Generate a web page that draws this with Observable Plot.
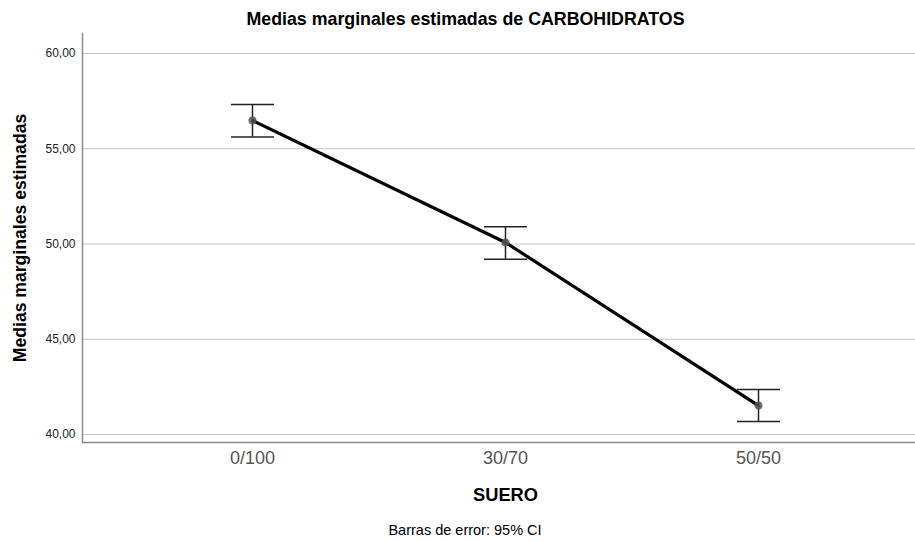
<!DOCTYPE html>
<html><head><meta charset="utf-8">
<script src="https://cdn.jsdelivr.net/npm/d3@7"></script>
<script src="https://cdn.jsdelivr.net/npm/@observablehq/plot@0.6"></script>
<style>body{margin:0;background:#fff;font-family:"Liberation Sans",Arial,sans-serif}</style>
</head><body><div id="chart"></div>
<script>
const categories = ["0/100", "30/70", "50/50"];
const means = [56.48, 50.08, 41.52];
const lower = [55.62, 49.20, 40.68];
const upper = [57.32, 50.90, 42.36];
const yTicks = [40, 45, 50, 55, 60];
const title = "Medias marginales estimadas de CARBOHIDRATOS";
const yLabel = "Medias marginales estimadas";
const xLabel = "SUERO";
const caption = "Barras de error: 95% CI";

const data = categories.map((c, i) => ({c, m: means[i], lo: lower[i], hi: upper[i]}));
const yMin = 39.58, yMax = 61.05;
const fmt = d => d.toFixed(2).replace(".", ",");
const capSymbol = {draw(ctx) { ctx.moveTo(-21.5, 0); ctx.lineTo(21.5, 0); }};

const chart = Plot.plot({
  width: 915, height: 541,
  marginTop: 33, marginBottom: 99, marginLeft: 82, marginRight: 0,
  style: {fontFamily: '"Liberation Sans", Arial, sans-serif', background: "#fff"},
  x: {type: "point", domain: categories, range: [251, 758], padding: 0, label: null},
  y: {domain: [yMin, yMax], label: null},
  marks: [
    Plot.gridY(yTicks, {stroke: "#c4c4c4", strokeOpacity: 1, strokeWidth: 1}),
    Plot.ruleY([yMin], {stroke: "#8a8a8a", strokeWidth: 1.5}),
    Plot.frame({anchor: "left", stroke: "#8a8a8a", strokeWidth: 1.5}),
    Plot.axisY(yTicks, {tickSize: 0, tickPadding: 7, tickFormat: fmt, fontSize: 12, fill: "#222"}),
    Plot.axisX({tickSize: 0, tickPadding: 9, fontSize: 18, fill: "#555", label: null}),
    Plot.ruleX(data, {x: "c", y1: "lo", y2: "hi", stroke: "#222", strokeWidth: 1.5}),
    Plot.dot(data, {x: "c", y: "lo", symbol: capSymbol, fill: "none", stroke: "#222", strokeWidth: 1.5}),
    Plot.dot(data, {x: "c", y: "hi", symbol: capSymbol, fill: "none", stroke: "#222", strokeWidth: 1.5}),
    Plot.line(data, {x: "c", y: "m", stroke: "#000", strokeWidth: 3.2}),
    Plot.dot(data, {x: "c", y: "m", r: 4, fill: "#555", fillOpacity: 0.85, stroke: "none"}),
    Plot.text([title], {frameAnchor: "top", lineAnchor: "middle", textAnchor: "middle", dy: -14.5, dx: -33.5, fontSize: 17.8, fontWeight: "bold", fill: "#000"}),
    Plot.text([yLabel], {frameAnchor: "left", lineAnchor: "middle", textAnchor: "middle", dx: -62, rotate: -90, fontSize: 17.6, fontWeight: "bold", fill: "#000"}),
    Plot.text([xLabel], {x: () => categories[1], frameAnchor: "bottom", lineAnchor: "middle", dy: 52.5, fontSize: 18.3, fontWeight: "bold", fill: "#000"}),
    Plot.text([caption], {frameAnchor: "bottom", lineAnchor: "middle", textAnchor: "middle", dy: 88, dx: -34, fontSize: 14.5, fill: "#000"})
  ]
});
document.getElementById("chart").appendChild(chart);
</script></body></html>
